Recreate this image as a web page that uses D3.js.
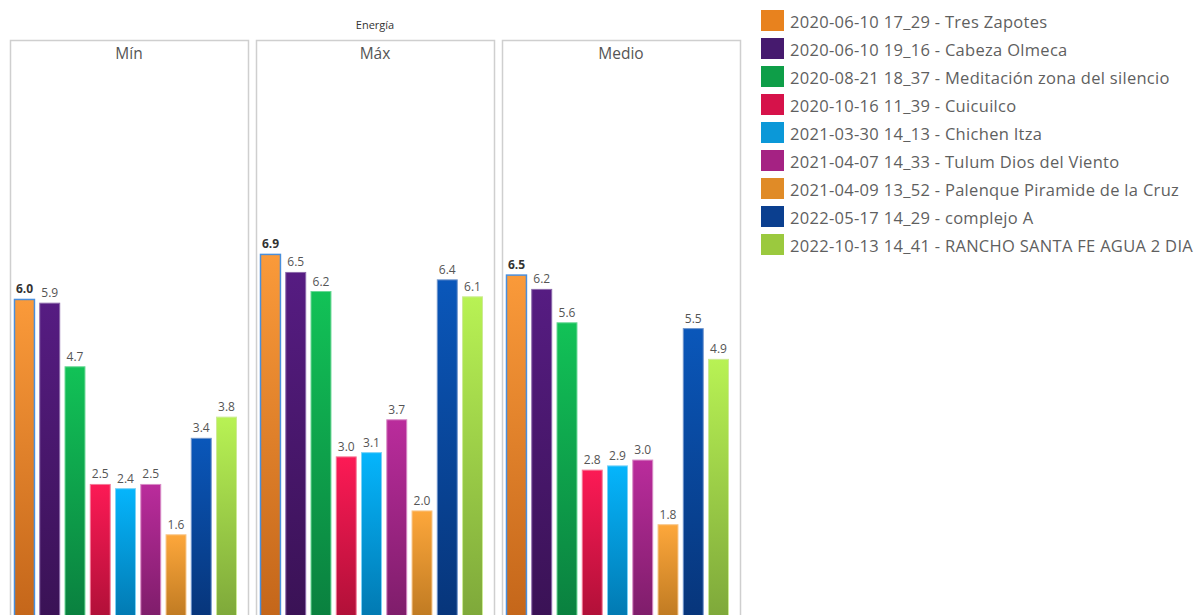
<!DOCTYPE html>
<html><head><meta charset="utf-8">
<script src="https://cdn.jsdelivr.net/npm/d3@7"></script>
<style>body{margin:0;background:#fff;overflow:hidden} svg{display:block;font-family:"Open Sans",sans-serif;}</style>
</head><body><svg id="c" width="1195" height="615"></svg>
<script>
const chartTitle = "Energía";
const panels = ["Mín", "Máx", "Medio"];
const series = [
  "2020-06-10 17_29 - Tres Zapotes",
  "2020-06-10 19_16 - Cabeza Olmeca",
  "2020-08-21 18_37 - Meditación zona del silencio",
  "2020-10-16 11_39 - Cuicuilco",
  "2021-03-30 14_13 - Chichen Itza",
  "2021-04-07 14_33 - Tulum Dios del Viento",
  "2021-04-09 13_52 - Palenque Piramide de la Cruz",
  "2022-05-17 14_29 - complejo A",
  "2022-10-13 14_41 - RANCHO SANTA FE AGUA 2 DIA"
];
const minValues   = [6.01, 5.94, 4.74, 2.52, 2.44, 2.52, 1.57, 3.39, 3.79];
const maxValues   = [6.86, 6.52, 6.16, 3.04, 3.12, 3.74, 2.02, 6.38, 6.06];
const medioValues = [6.47, 6.20, 5.57, 2.79, 2.87, 2.98, 1.76, 5.46, 4.88];
const legendColors = ["#e8821e","#461a6e","#0e9e48","#d6124a","#0b98d8","#a52283","#e08b27","#0b3f8f","#9bc93e"];
const topColors    = ["#fa9a3a","#561c82","#12c257","#fc1a55","#05b5fc","#ba2c9c","#fda73b","#0a57ba","#b8f254"];
const bottomColors = ["#c4661a","#3a1255","#0a803f","#b01038","#0279b1","#7e1d6a","#bf7a22","#07357a","#7ea83a"];
const strokeColors = ["#f6b77a","#8c6aab","#6ad896","#f57a97","#7ad2f7","#d98bc6","#f8c68a","#6f94cc","#cdeb95"];

const allValues = [minValues, maxValues, medioValues];

const svg = d3.select("#c");
const defs = svg.append("defs");
series.forEach((s, i) => {
  const g = defs.append("linearGradient").attr("id", "g" + i)
    .attr("x1", 0).attr("y1", 0).attr("x2", 0).attr("y2", 1);
  g.append("stop").attr("offset", "0%").attr("stop-color", topColors[i]);
  g.append("stop").attr("offset", "100%").attr("stop-color", bottomColors[i]);
});

const px = d3.scaleBand().domain(panels).range([10, 740]).paddingInner(0.0325).paddingOuter(0);
const y = d3.scaleLinear().domain([0, 7]).range([618, 618 - 7 * 53]);
const x = d3.scaleBand().domain(series).range([4.5, 226.5]).paddingInner(0.21).paddingOuter(0);
const fmt = d3.format(".1f");

svg.append("text").attr("x", px("Máx") + px.bandwidth() / 2).attr("y", 29)
  .attr("text-anchor", "middle").attr("font-size", 11).attr("fill", "#333").text(chartTitle);

panels.forEach((p, pi) => {
  const g = svg.append("g").attr("transform", `translate(${px(p)},0)`);
  g.append("rect").attr("x", 0.5).attr("y", 40.5).attr("width", px.bandwidth()).attr("height", 620)
    .attr("fill", "none").attr("stroke", "#cfcfcf").attr("stroke-width", 1.5);
  g.append("text").attr("x", px.bandwidth() / 2).attr("y", 59)
    .attr("text-anchor", "middle").attr("font-size", 15.5).attr("fill", "#555").text(p);
  const vals = allValues[pi];
  g.selectAll("rect.bar").data(series).join("rect").attr("class", "bar")
    .attr("x", d => x(d)).attr("width", x.bandwidth())
    .attr("y", (d, i) => y(vals[i])).attr("height", (d, i) => y(0) - y(vals[i]))
    .attr("fill", (d, i) => `url(#g${i})`)
    .attr("stroke", (d, i) => i === 0 ? "#4a8fdc" : strokeColors[i])
    .attr("stroke-width", (d, i) => i === 0 ? 1.5 : 1);
  g.selectAll("text.lbl").data(series).join("text").attr("class", "lbl")
    .attr("x", d => x(d) + x.bandwidth() / 2)
    .attr("y", (d, i) => y(vals[i]) - 6)
    .attr("text-anchor", "middle").attr("font-size", 12)
    .attr("font-weight", (d, i) => i === 0 ? 700 : 400)
    .attr("fill", (d, i) => i === 0 ? "#333" : "#555")
    .text((d, i) => fmt(vals[i]));
});

const lg = svg.append("g").attr("transform", "translate(761,10)");
const row = lg.selectAll("g").data(series).join("g").attr("transform", (d, i) => `translate(0,${i * 28})`);
row.append("rect").attr("width", 23).attr("height", 21).attr("fill", (d, i) => legendColors[i]);
row.append("text").attr("x", 29).attr("y", 11).attr("dominant-baseline", "central")
  .attr("font-size", 16.5).attr("letter-spacing", 0.3).attr("fill", "#5f5f5f").text(d => d);
</script></body></html>
